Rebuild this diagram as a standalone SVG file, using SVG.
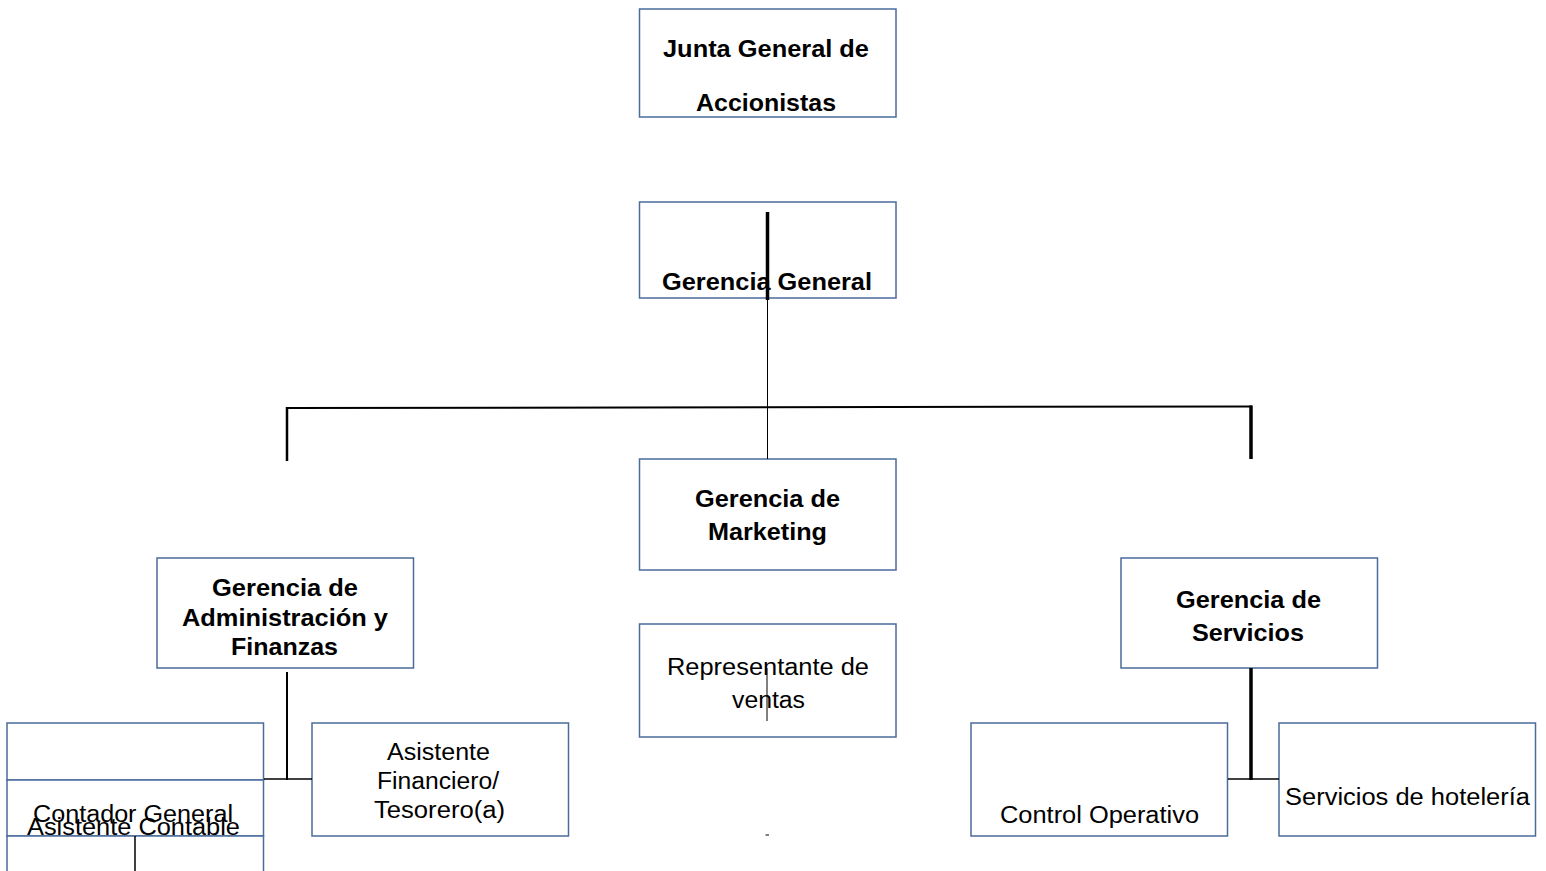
<svg xmlns="http://www.w3.org/2000/svg" width="1546" height="871" viewBox="0 0 1546 871">
<style>
.box{fill:#fff;stroke:#4a6b9b;stroke-width:1.5}
.t{font-family:"Liberation Sans",Arial,sans-serif;font-size:23px;fill:#000}
.b{font-weight:bold}
.ln{stroke:#000;fill:none}
</style>
<rect width="1546" height="871" fill="#fff"/>
<g id="junta"><rect class="box" x="639.5" y="9" width="256.5" height="108"/>
<text class="t b" x="663" y="57" textLength="206" lengthAdjust="spacingAndGlyphs">Junta General de</text>
<text class="t b" x="696" y="111" textLength="140" lengthAdjust="spacingAndGlyphs">Accionistas</text></g>
<g id="gerencia-general"><rect class="box" x="639.5" y="202" width="256.5" height="96"/>
<text class="t b" x="662" y="290" textLength="210" lengthAdjust="spacingAndGlyphs">Gerencia General</text></g>
<g id="marketing"><rect class="box" x="639.5" y="459" width="256.5" height="111"/>
<text class="t b" x="695" y="507" textLength="145" lengthAdjust="spacingAndGlyphs">Gerencia de</text>
<text class="t b" x="708" y="540" textLength="119" lengthAdjust="spacingAndGlyphs">Marketing</text></g>
<g id="representante"><rect class="box" x="639.5" y="624" width="256.5" height="113"/>
<text class="t" x="667" y="675" textLength="202" lengthAdjust="spacingAndGlyphs">Representante de</text>
<text class="t" x="732" y="708" textLength="73" lengthAdjust="spacingAndGlyphs">ventas</text></g>
<g id="admin"><rect class="box" x="157" y="558" width="256.5" height="110"/>
<text class="t b" x="212" y="596" textLength="146" lengthAdjust="spacingAndGlyphs">Gerencia de</text>
<text class="t b" x="182" y="626" textLength="206" lengthAdjust="spacingAndGlyphs">Administración y</text>
<text class="t b" x="231" y="655" textLength="107" lengthAdjust="spacingAndGlyphs">Finanzas</text></g>
<g id="servicios"><rect class="box" x="1121" y="558" width="256.5" height="110"/>
<text class="t b" x="1176" y="608" textLength="145" lengthAdjust="spacingAndGlyphs">Gerencia de</text>
<text class="t b" x="1192" y="641" textLength="112" lengthAdjust="spacingAndGlyphs">Servicios</text></g>
<g id="izq-cajas"><rect class="box" x="7" y="723" width="256.5" height="57"/>
<rect class="box" x="7" y="780" width="256.5" height="56"/>
<rect class="box" x="7" y="836" width="256.5" height="40"/></g>
<g id="contador"><text class="t" x="33" y="822" textLength="200" lengthAdjust="spacingAndGlyphs">Contador General</text></g>
<g id="asistente-contable"><text class="t" x="27" y="835" textLength="213" lengthAdjust="spacingAndGlyphs">Asistente Contable</text></g>
<g id="asistente-financiero"><rect class="box" x="312" y="723" width="256.5" height="113"/>
<text class="t" x="387" y="760" textLength="103" lengthAdjust="spacingAndGlyphs">Asistente</text>
<text class="t" x="377" y="789" textLength="122" lengthAdjust="spacingAndGlyphs">Financiero/</text>
<text class="t" x="374" y="818" textLength="131" lengthAdjust="spacingAndGlyphs">Tesorero(a)</text></g>
<g id="control"><rect class="box" x="971" y="723" width="256.5" height="113"/>
<text class="t" x="1000" y="823" textLength="199" lengthAdjust="spacingAndGlyphs">Control Operativo</text></g>
<g id="hoteleria"><rect class="box" x="1279" y="723" width="256.5" height="113"/>
<text class="t" x="1285" y="805" textLength="245" lengthAdjust="spacingAndGlyphs">Servicios de hotelería</text></g>
<g id="conectores">
<line class="ln" x1="767.5" y1="212" x2="767.5" y2="300" stroke-width="3.5"/>
<line class="ln" x1="767.5" y1="300" x2="767.5" y2="459" stroke="#555" stroke-width="1"/>
<line class="ln" x1="286" y1="408" x2="1252" y2="406.5" stroke-width="2"/>
<line class="ln" x1="287" y1="407" x2="287" y2="461" stroke-width="2.5"/>
<line class="ln" x1="1251" y1="405.5" x2="1251" y2="459" stroke-width="3.5"/>
<line class="ln" x1="767" y1="668" x2="767" y2="721" stroke="#555" stroke-width="1"/>
<line class="ln" x1="765.5" y1="835" x2="769" y2="835" stroke="#555" stroke-width="1"/>
<line class="ln" x1="287" y1="672" x2="287" y2="780" stroke-width="2"/>
<line class="ln" x1="264" y1="779" x2="312" y2="779" stroke-width="1.5"/>
<line class="ln" x1="135" y1="836" x2="135" y2="871" stroke-width="1.5"/>
<line class="ln" x1="1251" y1="668" x2="1251" y2="780" stroke-width="3.5"/>
<line class="ln" x1="1228" y1="779" x2="1279" y2="779" stroke-width="1.5"/>
</g>
</svg>
